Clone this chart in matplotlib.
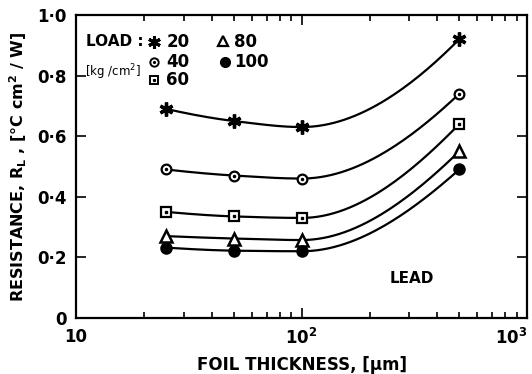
import numpy as np
import matplotlib.pyplot as plt

# foil thickness [um] and resistance for each load [kg/cm2]
thickness = [25, 50, 100, 500]
r_20 = [0.69, 0.65, 0.63, 0.92]
r_40 = [0.49, 0.47, 0.46, 0.74]
r_60 = [0.35, 0.335, 0.33, 0.64]
r_80 = [0.27, 0.262, 0.257, 0.55]
r_100 = [0.232, 0.222, 0.22, 0.49]

plt.rcParams['font.family'] = ['DejaVu Sans']
plt.rcParams['font.weight'] = 'bold'

fig = plt.figure(figsize=(5.32, 3.74), dpi=100)
ax = fig.add_axes([0.143, 0.15, 0.848, 0.81])

def smooth(x, y):
    # monotone cubic (pchip) through the points in log-x space
    u = np.log10(np.array(x, float))
    y = np.array(y, float)
    h = np.diff(u)
    d = np.diff(y) / h
    m = np.zeros_like(y)
    for k in range(1, len(y) - 1):
        if d[k - 1] * d[k] > 0:
            w1 = 2 * h[k] + h[k - 1]
            w2 = h[k] + 2 * h[k - 1]
            m[k] = (w1 + w2) / (w1 / d[k - 1] + w2 / d[k])
    m[0] = ((2 * h[0] + h[1]) * d[0] - h[0] * d[1]) / (h[0] + h[1])
    if np.sign(m[0]) != np.sign(d[0]):
        m[0] = 0
    m[-1] = ((2 * h[-1] + h[-2]) * d[-1] - h[-1] * d[-2]) / (h[-1] + h[-2])
    if np.sign(m[-1]) != np.sign(d[-1]):
        m[-1] = 0
    xs, ys = [], []
    for k in range(len(h)):
        t = np.linspace(0, 1, 60)
        h00 = 2 * t**3 - 3 * t**2 + 1
        h10 = t**3 - 2 * t**2 + t
        h01 = -2 * t**3 + 3 * t**2
        h11 = t**3 - t**2
        xs.append(u[k] + t * h[k])
        ys.append(h00 * y[k] + h10 * h[k] * m[k] + h01 * y[k + 1] + h11 * h[k] * m[k + 1])
    return 10 ** np.concatenate(xs), np.concatenate(ys)

for r in [r_20, r_40, r_60, r_80, r_100]:
    xs, ys = smooth(thickness, r)
    ax.plot(xs, ys, color='black', lw=1.6, zorder=2)

ax.plot(thickness, r_20, ls='none', marker=(6, 2, 0), ms=10, mew=2.4, color='black', zorder=3)
ax.plot(thickness, r_40, ls='none', marker='o', ms=7, mfc='white', mec='black', mew=1.6, zorder=3)
ax.plot(thickness, r_40, ls='none', marker='o', ms=1.5, color='black', zorder=4)
ax.plot(thickness, r_60, ls='none', marker='s', ms=7, mfc='white', mec='black', mew=1.6, zorder=3)
ax.plot(thickness, r_60, ls='none', marker='s', ms=1.5, color='black', zorder=4)
ax.plot(thickness, r_80, ls='none', marker='^', ms=8, mfc='white', mec='black', mew=1.8, zorder=3)
ax.plot(thickness, r_100, ls='none', marker='o', ms=8, color='black', zorder=3)

ax.set_xscale('log')
ax.set_xlim(10, 1000)
ax.set_ylim(0, 1.0)
ax.set_xticks([10, 100, 1000])
ax.set_xticklabels(['10', '10$^\\mathregular{2}$', '10$^\\mathregular{3}$'], fontsize=12)
ax.get_xticklabels()[-1].set_horizontalalignment('right')
ax.set_yticks([0, 0.2, 0.4, 0.6, 0.8, 1.0])
ax.set_yticklabels(['0', '0·2', '0·4', '0·6', '0·8', '1·0'], fontsize=12)
ax.tick_params(which='both', direction='in', top=True, right=True, width=1.2)
ax.tick_params(which='major', length=7, pad=7)
ax.tick_params(which='minor', length=4)
ax.minorticks_on()
ax.yaxis.set_minor_locator(plt.NullLocator())
for s in ax.spines.values():
    s.set_linewidth(1.6)

ax.set_xlabel('FOIL THICKNESS, [µm]', fontsize=12, fontweight='bold', labelpad=6)
ax.set_ylabel('RESISTANCE, R$_\\mathregular{L}$ , [°C cm$^\\mathregular{2}$ / W]',
              fontsize=11.5, fontweight='bold', labelpad=6)

# legend drawn by hand like the original
tr = ax.transAxes
ax.text(0.022, 0.911, 'LOAD :', transform=tr, fontsize=11, va='center')
ax.text(0.02, 0.812, '[kg /cm$^\\mathregular{2}$]', transform=tr, fontsize=8.5, fontweight='normal', va='center')
ax.plot([0.173], [0.911], transform=tr, marker=(6, 2, 0), ms=9, mew=2.2, color='black')
ax.plot([0.173], [0.845], transform=tr, marker='o', ms=6, mfc='white', mec='black', mew=1.4)
ax.plot([0.173], [0.845], transform=tr, marker='o', ms=1.3, color='black')
ax.plot([0.173], [0.785], transform=tr, marker='s', ms=6, mfc='white', mec='black', mew=1.4)
ax.plot([0.173], [0.785], transform=tr, marker='s', ms=1.3, color='black')
ax.plot([0.326], [0.915], transform=tr, marker='^', ms=7, mfc='white', mec='black', mew=1.6)
ax.plot([0.33], [0.845], transform=tr, marker='o', ms=7, color='black')
for xx, yy, t in [(0.2, 0.911, '20'), (0.2, 0.845, '40'), (0.2, 0.785, '60'),
                  (0.35, 0.911, '80'), (0.35, 0.845, '100')]:
    ax.text(xx, yy, t, transform=tr, fontsize=12, va='center')
ax.text(0.695, 0.13, 'LEAD', transform=tr, fontsize=11, va='center')

fig.savefig('out.png', dpi=100)
